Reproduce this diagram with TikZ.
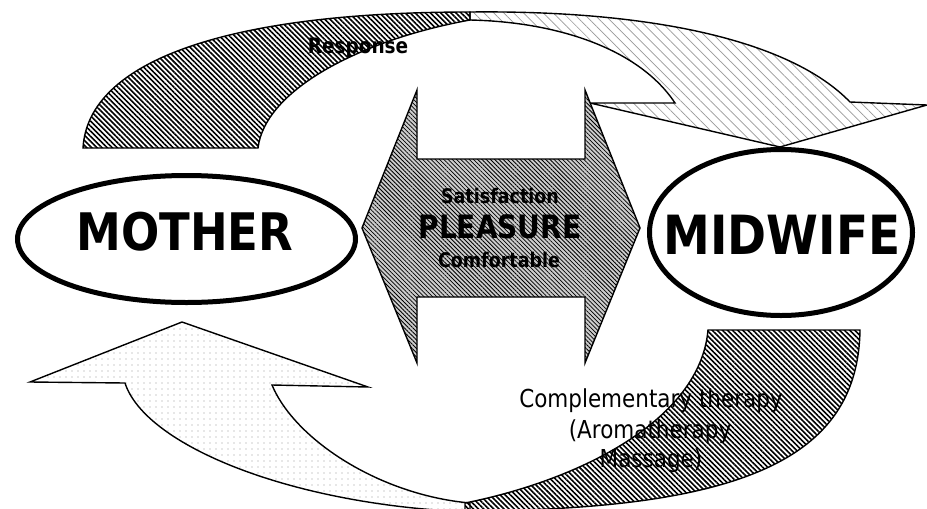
\documentclass[tikz,border=0pt]{standalone}
\usepackage{graphicx}
\usepackage{fontspec}
\setmainfont{DejaVu Sans}
\usetikzlibrary{shapes.geometric,patterns.meta}
\newcommand\talltext[1]{\scalebox{1}[1.15]{#1}}
\tikzset{
  outl/.style={draw=black, line width=1.4pt, line join=miter},
  darkhatch/.style={pattern={Lines[angle=-45,distance=3.6pt,line width=1.6pt]}, pattern color=black},
  lighthatch/.style={pattern={Lines[angle=-45,distance=7pt,line width=0.7pt]}, pattern color=gray!80},
  lightdots/.style={pattern={Dots[distance=6pt,radius=0.6pt]}, pattern color=gray!80},
  centerfill/.style={preaction={fill=gray!40}, pattern={Lines[angle=-45,distance=3pt,line width=0.8pt]}, pattern color=black},
  bubble/.style={ellipse, draw=black, line width=5pt, inner sep=0pt},
  bigtxt/.style={font=\bfseries\fontsize{45}{45}\selectfont, anchor=base, inner sep=0pt},
  midtxt/.style={font=\bfseries\fontsize{17.5}{17.5}\selectfont, anchor=base, inner sep=0pt},
  comptxt/.style={font=\fontsize{21.5}{21.5}\selectfont, anchor=base, inner sep=0pt}
}
\begin{document}
\begin{tikzpicture}[x=1pt,y=-1pt]
\useasboundingbox (0,0) rectangle (927,509);
\fill[white] (0,0) rectangle (927,509);

% top arrow: light part (head)
\draw[outl, lighthatch] (470,12) .. controls (650,10) and (790,40) .. (850,102)
  -- (927,105) -- (780,147) -- (590,103) -- (675,103)
  .. controls (640,50) and (560,22) .. (470,20) -- cycle;
% top arrow: dark part (tail)
\draw[outl, darkhatch] (83,148) .. controls (88,60) and (230,12) .. (470,12)
  -- (470,20) .. controls (360,40) and (265,90) .. (258,148) -- cycle;

% bottom arrow: light part (head)
\draw[outl, lightdots] (182,322) -- (368,387) -- (272,385)
  .. controls (295,440) and (380,495) .. (470,503) -- (470,512)
  .. controls (290,505) and (145,445) .. (125,383) -- (30,382) -- cycle;
% bottom arrow: dark part (tail)
\draw[outl, darkhatch] (465,503) .. controls (580,480) and (700,420) .. (708,330)
  -- (860,330) .. controls (858,460) and (740,510) .. (465,511) -- cycle;

% central double arrow
\draw[outl, centerfill] (362,228) -- (417,90) -- (417,159) -- (585,159) -- (585,90)
  -- (640,228) -- (585,363) -- (585,297) -- (417,297) -- (417,363) -- cycle;

% ellipses
\node[bubble, minimum width=338pt, minimum height=127pt] (mother) at (186.5,239) {};
\node[bubble, minimum width=263pt, minimum height=166pt] (midwife) at (781,232.5) {};

\node[bigtxt] (mothertxt) at (185,250) {\talltext{MOTHER}};
\node[bigtxt, font=\bfseries\fontsize{47}{47}\selectfont] (midwifetxt) at (782,254) {\talltext{MIDWIFE}};

\node[midtxt] (satis) at (500,203) {\talltext{Satisfaction}};
\node[midtxt, font=\bfseries\fontsize{28}{28}\selectfont] (pleasure) at (500,238) {\talltext{PLEASURE}};
\node[midtxt] (comfort) at (499,267) {\talltext{Comfortable}};
\node[midtxt, font=\bfseries\fontsize{18.5}{18.5}\selectfont] (response) at (358,53) {\talltext{Response}};

\node[comptxt] (comp1) at (651,407) {\talltext{Complementary therapy}};
\node[comptxt] (comp2) at (650,438) {\talltext{(Aromatherapy}};
\node[comptxt] (comp3) at (651,467) {\talltext{Massage)}};
\end{tikzpicture}
\end{document}
